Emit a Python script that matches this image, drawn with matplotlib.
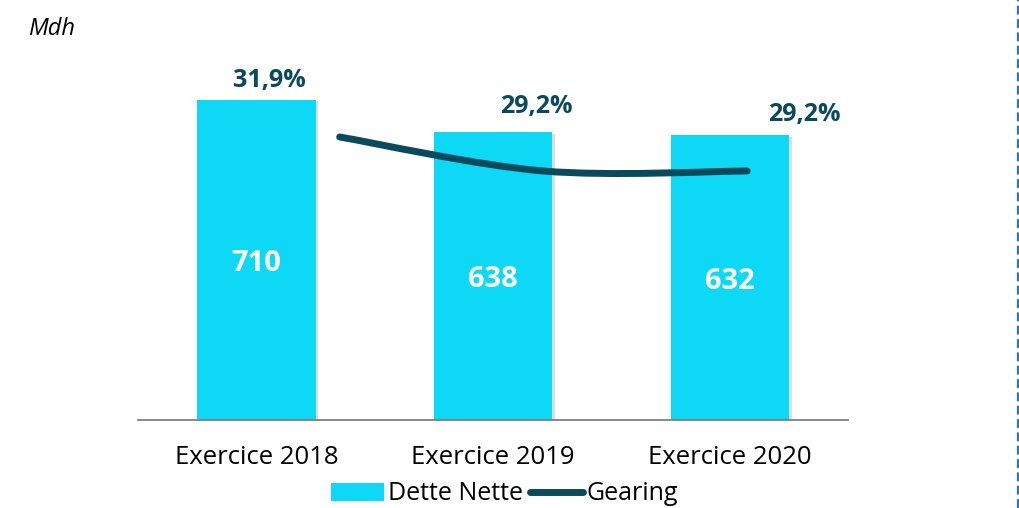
import numpy as np
import matplotlib.pyplot as plt
from matplotlib.path import Path
from matplotlib.patches import PathPatch, Patch
from matplotlib.lines import Line2D
import matplotlib.patheffects as pe

plt.rcParams["font.family"] = ["Open Sans", "DejaVu Sans"]

CATEGORIES = ["Exercice 2018", "Exercice 2019", "Exercice 2020"]
DETTE_NETTE = [710, 638, 632]
GEARING = [31.9, 29.2, 29.2]
GEARING_LABELS = ["31,9%", "29,2%", "29,2%"]

BAR_COLOR = "#0dd8f6"
LINE_COLOR = "#0b4a5c"


def smooth_path(xs, ys) -> Path:
    """Catmull-Rom style bezier through the points (like Excel smoothing)."""
    pts = np.column_stack([xs, ys]).astype(float)
    n = len(pts)
    verts = [pts[0]]
    codes = [Path.MOVETO]
    for i in range(n - 1):
        prev_pt = pts[i - 1] if i > 0 else pts[i]
        next_pt = pts[i + 2] if i + 2 < n else pts[i + 1]
        c1 = pts[i] + (pts[i + 1] - prev_pt) / 6
        c2 = pts[i + 1] - (next_pt - pts[i]) / 6
        verts += [c1, c2, pts[i + 1]]
        codes += [Path.CURVE4] * 3
    return Path(verts, codes)


def main() -> None:
    fig = plt.figure(figsize=(10.19, 5.08), dpi=100)
    rect = [138 / 1019, 88 / 508, 710 / 1019, 360 / 508]

    ax = fig.add_axes(rect)
    x = np.arange(len(CATEGORIES))
    bars = ax.bar(x, DETTE_NETTE, width=0.5, color=BAR_COLOR, zorder=2)
    for bar in bars:
        bar.set_path_effects([
            pe.SimplePatchShadow(offset=(2, -1), shadow_rgbFace="#909090", alpha=0.3),
            pe.Normal(),
        ])
    for xi, val in zip(x, DETTE_NETTE):
        ax.text(xi, val / 2, f"{val}", ha="center", va="center_baseline",
                color="white", fontsize=21, fontweight="bold", zorder=3)

    ax.set_xlim(-0.5, 2.5)
    ax.set_ylim(0, 798.8)
    ax.set_xticks(x)
    ax.set_xticklabels(CATEGORIES, fontsize=18.5)
    ax.tick_params(axis="x", length=0, pad=18)
    ax.set_yticks([])
    for side in ["top", "left", "right"]:
        ax.spines[side].set_visible(False)
    ax.spines["bottom"].set_color("#7f7f7f")
    ax.spines["bottom"].set_linewidth(1.3)

    # gearing line on its own overlaid axes
    ax2 = fig.add_axes(rect, frameon=False)
    ax2.set_xlim(-0.990, 2.495)
    ax2.set_ylim(9.44, 38.01)
    ax2.set_xticks([])
    ax2.set_yticks([])
    gx = np.arange(len(GEARING))
    ax2.add_patch(PathPatch(smooth_path(gx, GEARING), facecolor="none",
                            edgecolor=LINE_COLOR, linewidth=5, capstyle="round",
                            zorder=4))
    label_offsets = [(-70, 59), (-7, 68), (57, 60)]
    for xi, val, lab, off in zip(gx, GEARING, GEARING_LABELS, label_offsets):
        ax2.annotate(lab, (xi, val), xytext=off, textcoords="offset pixels",
                     ha="center", va="center_baseline", color=LINE_COLOR,
                     fontsize=18, fontweight="bold")

    fig.text(28 / 1019, 1 - 35 / 508, "Mdh", fontsize=17, style="italic",
             ha="left", va="baseline")

    handles = [
        Patch(facecolor=BAR_COLOR, edgecolor="none"),
        Line2D([0], [0], color=LINE_COLOR, linewidth=5, solid_capstyle="round"),
    ]
    fig.legend(handles, ["Dette Nette", "Gearing"], loc="center",
               bbox_to_anchor=(504.5 / 1019, 1 - 494 / 508), ncol=2,
               frameon=False, fontsize=18, handlelength=2.1,
               handletextpad=0.15, columnspacing=0.3, borderpad=0,
               borderaxespad=0)

    fig.add_artist(Line2D([1018 / 1019, 1018 / 1019], [0, 1],
                          transform=fig.transFigure, color="#2e75b6",
                          linewidth=1.6, linestyle=(0, (4, 2))))

    fig.savefig("out.png", dpi=100)
    plt.close(fig)


if __name__ == "__main__":
    main()
